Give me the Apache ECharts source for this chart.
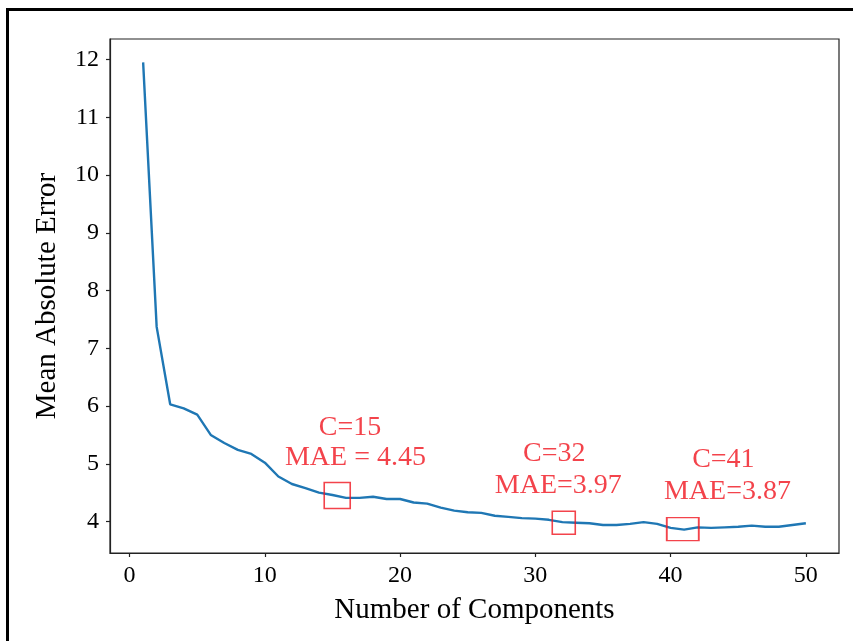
<!DOCTYPE html>
<html>
<head>
<meta charset="utf-8">
<script src="https://cdn.jsdelivr.net/npm/echarts@6/dist/echarts.min.js"></script>
<style>
html,body{margin:0;padding:0;background:#fff;}
#chart{width:853px;height:641px;}
</style>
</head>
<body>
<div id="chart"></div>
<script>
// ---- data ----
var components = [1,2,3,4,5,6,7,8,9,10,11,12,13,14,15,16,17,18,19,20,21,22,23,24,25,26,27,28,29,30,31,32,33,34,35,36,37,38,39,40,41,42,43,44,45,46,47,48,49,50];
var mae = [11.95,7.37,6.03,5.96,5.85,5.50,5.36,5.24,5.17,5.02,4.78,4.65,4.58,4.50,4.46,4.41,4.41,4.43,4.39,4.39,4.33,4.31,4.24,4.19,4.16,4.15,4.10,4.08,4.06,4.05,4.03,3.99,3.98,3.97,3.94,3.94,3.96,3.99,3.96,3.89,3.86,3.90,3.89,3.90,3.91,3.93,3.91,3.91,3.94,3.97];
var xTicks = [0,10,20,30,40,50];
var yTicks = [4,5,6,7,8,9,10,11,12];
// highlighted boxes (centre x, centre y)
var boxX = [15.35, 32.1, 40.9];
var boxY = [4.45, 3.98, 3.87];
// annotation lines: [x, y, text]
var annX = [16.3, 16.7, 31.4, 31.7, 43.9, 44.2];
var annY = [5.63, 5.10, 5.17, 4.62, 5.07, 4.51];
var annText = ['C=15', 'MAE = 4.45', 'C=32', 'MAE=3.97', 'C=41', 'MAE=3.87'];

var xMin = -1.45, xMax = 52.45, yMin = 3.4555, yMax = 12.3545;
var serif = '"Liberation Serif", "Times New Roman", serif';
var red = '#f0141e';
var boxSizes = [[26,26],[23,23],[32,23]];

var chart = echarts.init(document.getElementById('chart'), null, {renderer:'canvas'});
var lineData = components.map(function(c,i){return [c, mae[i]];});
var boxData = boxX.map(function(x,i){return {value:[x, boxY[i]], symbolSize: boxSizes[i]};});
var annData = annX.map(function(x,i){return {value:[x, annY[i]], label:{formatter: annText[i]}};});

chart.setOption({
  animation:false,
  backgroundColor:'#fff',
  grid:{left:110, right:14, top:39, bottom:88, show:true, borderColor:'#222', borderWidth:1.2, backgroundColor:'transparent'},
  xAxis:{
    type:'value', min:xMin, max:xMax,
    name:'Number of Components', nameLocation:'middle', nameGap:43,
    nameTextStyle:{fontFamily:serif, fontSize:29, color:'#000'},
    axisLine:{show:true, onZero:false, lineStyle:{color:'#222', width:1.2}},
    axisTick:{show:true, inside:false, length:4, lineStyle:{color:'#222', width:1.2}, customValues:xTicks},
    axisLabel:{fontFamily:serif, fontSize:24, color:'#000', margin:11, customValues:xTicks},
    splitLine:{show:false}
  },
  yAxis:{
    type:'value', min:yMin, max:yMax,
    name:'Mean Absolute Error', nameLocation:'middle', nameGap:48, nameRotate:90,
    nameTextStyle:{fontFamily:serif, fontSize:29, color:'#000'},
    axisLine:{show:true, onZero:false, lineStyle:{color:'#222', width:1.2}},
    axisTick:{show:true, inside:false, length:4, lineStyle:{color:'#222', width:1.2}, customValues:yTicks},
    axisLabel:{fontFamily:serif, fontSize:24, color:'#000', margin:11, customValues:yTicks},
    splitLine:{show:false}
  },
  graphic:[
    {type:'line', shape:{x1:7.5, y1:9.5, x2:7.5, y2:641}, style:{stroke:'#000', lineWidth:3}, z:100},
    {type:'line', shape:{x1:6, y1:9.5, x2:853, y2:9.5}, style:{stroke:'#000', lineWidth:3}, z:100}
  ],
  series:[
    {type:'line', data:lineData, showSymbol:false, symbol:'none', lineStyle:{color:'#1f77b4', width:2.4}, z:2},
    {type:'scatter', data:boxData, symbol:'rect', itemStyle:{color:'rgba(0,0,0,0)', borderColor:red, borderWidth:1.6}, z:3, silent:true},
    {type:'scatter', data:annData, symbolSize:0, z:4, silent:true,
     label:{show:true, position:'inside', fontFamily:serif, fontSize:28, color:red}}
  ]
});
</script>
</body>
</html>
